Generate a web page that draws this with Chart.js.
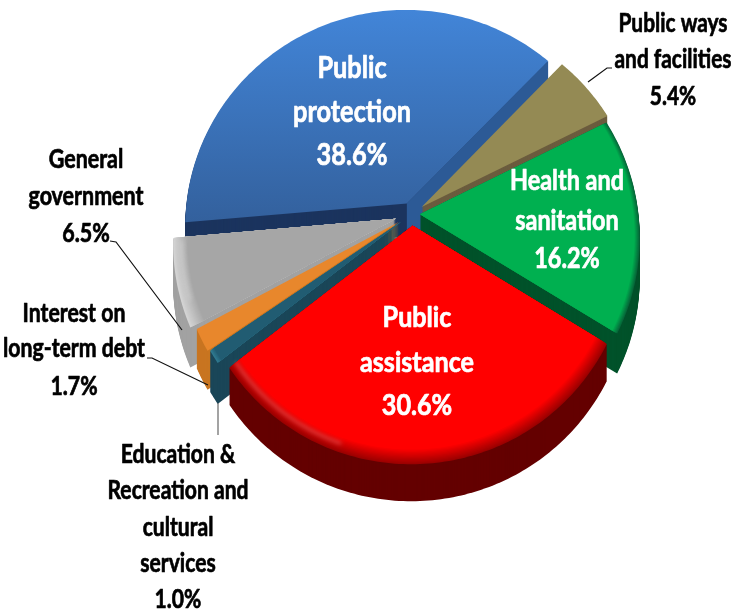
<!DOCTYPE html>
<html><head><meta charset="utf-8">
<style>html,body{margin:0;padding:0;background:#fff}#w{width:734px;height:614px}</style>
<script src="https://cdn.jsdelivr.net/npm/chart.js@4"></script></head>
<body><div id="w"><canvas id="c" width="734" height="614"></canvas></div>
<script>
const categories = ['Public protection','Public ways and facilities','Health and sanitation','Public assistance','Education & Recreation and cultural services','Interest on long-term debt','General government'];
const values = [38.6,5.4,16.2,30.6,1.0,1.7,6.5];
const topColors = ['#3a70b8','#948a54','#00b050','#ff0000','#215c72','#e8872c','#a6a6a6'];
const labelLines = [['Public','protection'],['Public ways','and facilities'],['Health and','sanitation'],['Public','assistance'],['Education &','Recreation and','cultural','services'],['Interest on','long-term debt'],['General','government']];

const sliceOffsets = [12,12,8,12,13,15,17];
const sliceStyle = [
 {wall:'#1b345e',depth:26,cut:'#2c5a96',grad:['#4285d8','#33609c']},
 {wall:'#6b5c3e',depth:20},
 {wall:'#00522a',depth:40,rim:5,rimColor:'#06693a'},
 {wall:'#640000',depth:37,rim:12,rimColor:'#9c0000',hi:[198,232],shrink:4},
 {wall:'#1a4658',depth:41,rim:4,rimColor:'#2f7a90',shrink:4},
 {wall:'#c87520',depth:39,shrink:4},
 {wall:'#a2a2a2',depth:40,rim:14,rimColor:'#d4d4d4',hi:[248,264],shrink:1}
];
const drawOrder = [0,1,6,5,4,2,3];
const labelStyle = [
 {x:352,ys:[78,122,165],size:30,w:118,ref:1,color:'#fff'},
 {x:673,ys:[32,68,105],size:26,w:117,ref:1,color:'#000'},
 {x:567,ys:[190,230,268],size:28,w:114,ref:0,color:'#fff'},
 {x:417,ys:[327,372,415],size:28,w:114,ref:1,color:'#fff'},
 {x:178,ys:[463,499,536,572,608],size:26,w:141,ref:1,color:'#000'},
 {x:74,ys:[322,357,395],size:26,w:142,ref:1,color:'#000'},
 {x:86,ys:[168,205,242],size:26,w:115,ref:1,color:'#000'}
];
const leaders = [
 {pts:[[588,82],[607,68],[612,68]],color:'#111'},
 {pts:[[110,241],[116,242],[182,330]],color:'#111'},
 {pts:[[147,358],[152,358],[208,385]],color:'#111'},
 {pts:[[218,403],[218,435]],color:'#666'}
];
const P = 0.00047, TILT = -0.00003, KY = 0.98;

function project(cx,cy,x,y){const w=1-P*y-TILT*x;return [cx+x/w,cy+KY*y/w];}
function hex(c){return [1,3,5].map(i=>parseInt(c.substr(i,2),16));}
function mix(a,b,t){const A=hex(a),B=hex(b);return 'rgb('+A.map((v,i)=>Math.round(v+(B[i]-v)*t)).join(',')+')';}

function slicePath(ctx,arc,offset,inset,dy){
  const {x:cx,y:cy,startAngle:s,endAngle:e,outerRadius:R}=arc;
  const mid=(s+e)/2, ox=Math.cos(mid)*offset, oy=Math.sin(mid)*offset, r=R-inset;
  ctx.beginPath();
  let p=project(cx,cy,ox,oy); ctx.moveTo(p[0],p[1]+dy);
  const n=Math.max(2,Math.ceil((e-s)*180/Math.PI));
  for(let i=0;i<=n;i++){const a=s+(e-s)*i/n;p=project(cx,cy,ox+Math.cos(a)*r,oy+Math.sin(a)*r);ctx.lineTo(p[0],p[1]+dy);}
  ctx.closePath();
}
const pie3d = {
  id:'pie3d',
  beforeDatasetsDraw(chart){
    const ctx=chart.ctx, arcs=chart.getDatasetMeta(0).data;
    ctx.save();
    for(const i of drawOrder){
      const arc=arcs[i], st=sliceStyle[i], off=arc.options.offset, base=arc.options.backgroundColor, sh=st.shrink||0;
      ctx.fillStyle=st.wall;
      for(let d=st.depth;d>0;d--){slicePath(ctx,arc,off,sh,d);ctx.fill();}
      if(st.cut){
        const {x:cx,y:cy,endAngle:e,outerRadius:R}=arc, m=(arc.startAngle+e)/2, ox=Math.cos(m)*off, oy=Math.sin(m)*off;
        const a=project(cx,cy,ox,oy), b=project(cx,cy,ox+Math.cos(e)*R,oy+Math.sin(e)*R);
        ctx.fillStyle=st.wall; ctx.fillRect(a[0]-14,a[1],15,st.depth+8);
        ctx.fillStyle=st.cut; ctx.beginPath(); ctx.moveTo(a[0],a[1]); ctx.lineTo(b[0],b[1]); ctx.lineTo(b[0],b[1]+st.depth*0.7); ctx.lineTo(a[0]+20,a[1]+st.depth*0.4); ctx.lineTo(a[0]+20,a[1]+st.depth+6); ctx.lineTo(a[0],a[1]+st.depth+6); ctx.closePath(); ctx.fill();
      }
      const rim=st.rim||0;
      for(let k=0;k<rim;k++){ctx.fillStyle=mix(st.rimColor,base,k/rim);slicePath(ctx,arc,off,sh+k,0);ctx.fill();}
      if(st.grad){const g=ctx.createLinearGradient(0,10,0,225);g.addColorStop(0,st.grad[0]);g.addColorStop(1,st.grad[1]);ctx.fillStyle=g;}
      else ctx.fillStyle=base;
      slicePath(ctx,arc,off,sh+rim,0);ctx.fill();
      if(st.hi){
        const {x:cx,y:cy,startAngle:s,endAngle:e,outerRadius:R}=arc, m=(s+e)/2, ox=Math.cos(m)*off, oy=Math.sin(m)*off, hr=R-sh-rim*0.6;
        ctx.save();ctx.filter='blur(2px)';ctx.strokeStyle='rgba(255,255,255,0.3)';ctx.lineWidth=2.5;ctx.beginPath();
        for(let deg=st.hi[0];deg<=st.hi[1];deg+=2){const a=(deg-90)*Math.PI/180,q=project(cx,cy,ox+Math.cos(a)*hr,oy+Math.sin(a)*hr);ctx.lineTo(q[0],q[1]);}
        ctx.stroke();ctx.restore();
      }
    }
    ctx.restore();
    return false;
  },
  afterDraw(chart){
    const ctx=chart.ctx;
    ctx.save();
    ctx.lineWidth=1.2;
    for(const l of leaders){ctx.strokeStyle=l.color;ctx.beginPath();l.pts.forEach(p=>ctx.lineTo(p[0],p[1]));ctx.stroke();}
    ctx.textAlign='center';ctx.textBaseline='alphabetic';ctx.lineJoin='round';
    categories.forEach((c,i)=>{
      const s=labelStyle[i], lines=labelLines[i].concat(values[i].toFixed(1)+'%');
      ctx.font='bold '+s.size+'px Lato';ctx.fillStyle=s.color;ctx.strokeStyle=s.color;ctx.lineWidth=0.7;
      const sx=s.w/ctx.measureText(lines[s.ref]).width;
      lines.forEach((t,j)=>{ctx.save();ctx.translate(s.x,s.ys[j]);ctx.scale(sx,1);ctx.strokeText(t,0,0);ctx.fillText(t,0,0);ctx.restore();});
    });
    ctx.restore();
  }
};
new Chart(document.getElementById('c'),{
  type:'pie',
  data:{labels:categories,datasets:[{data:values,backgroundColor:topColors,offset:sliceOffsets,borderWidth:0}]},
  options:{responsive:false,animation:false,rotation:-95,radius:220,
    layout:{padding:{left:90,right:0,top:0,bottom:186}},
    plugins:{legend:{display:false},tooltip:{enabled:false},title:{display:false}}},
  plugins:[pie3d]
});
</script></body></html>
